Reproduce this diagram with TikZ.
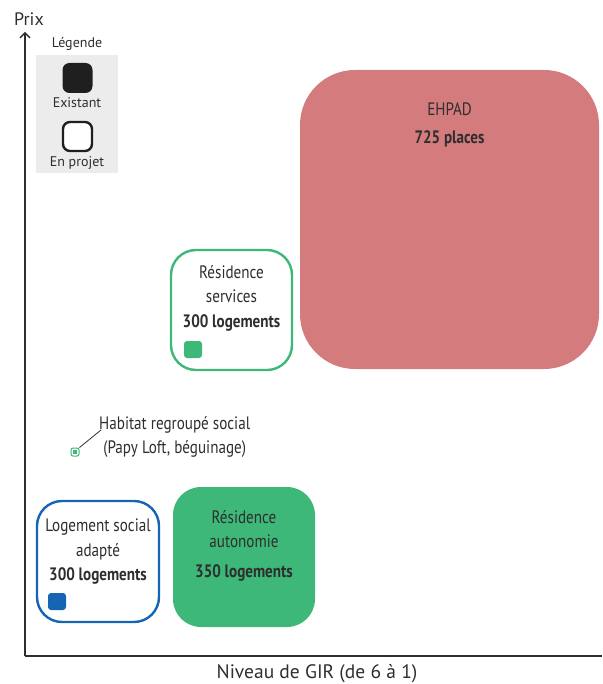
\documentclass[tikz,border=0pt]{standalone}
\usepackage{fontspec}
\setmainfont{PT Sans}
\newfontfamily\narrowfont[FakeStretch=0.84]{PT Sans}
\usetikzlibrary{positioning,arrows.meta}
\definecolor{ehpadred}{HTML}{D47B7E}
\definecolor{resgreen}{HTML}{3DB878}
\definecolor{lsblue}{HTML}{1565B4}
\definecolor{legendgray}{HTML}{ECECEC}
\definecolor{txtgray}{HTML}{2E2E2E}
\tikzstyle{fillbox}=[rectangle, inner sep=0pt, outer sep=0pt]
\tikzstyle{linebox}=[rectangle, inner sep=0pt, outer sep=0pt, fill=white, line width=2.4pt]
\tikzstyle{boxtext}=[align=center, text=txtgray, inner sep=0pt,
 font=\narrowfont\fontsize{18}{24.5}\selectfont]
\tikzstyle{legtext}=[text=txtgray, inner sep=0pt, font=\fontsize{14}{16}\selectfont]
\tikzstyle{axis}=[line width=1.3pt, draw=txtgray]

\begin{document}
\begin{tikzpicture}[x=1pt, y=-1pt]
\useasboundingbox (0,0) rectangle (602,684);

% axes
\coordinate (O) at (25,656);
\coordinate (YTOP) at (25,32);
\coordinate (XEND) at (602,656);
\draw[axis, -{Straight Barb[length=5pt,width=10pt]}] (O) -- (YTOP);
\draw[axis] (O) -- (XEND);
\node (PRIX) [text=txtgray, font=\fontsize{18}{20}\selectfont] at (29,19) {Prix};
\node (GIR) [text=txtgray, font=\fontsize{19.5}{21}\selectfont] at (317,674) {Niveau de GIR (de 6 à 1)};

% legend
\node (LEG) [fillbox, fill=legendgray, minimum width=82pt, minimum height=118pt] at (77,114) {};
\node (LEGT) [legtext] at (77,44) {Légende};
\node (EXI) [fillbox, fill=black!88, rounded corners=7pt, minimum size=30pt] at (77.5,78) {};
\node (EXIT) [legtext] at (77,103) {Existant};
\node (PRJ) [linebox, draw=black!88, rounded corners=7pt, minimum size=29pt] at (77.5,136.5) {};
\node (PRJT) [legtext] at (77,163) {En projet};

% EHPAD
\node (EHPAD) [fillbox, fill=ehpadred, rounded corners=55pt, minimum size=299pt] at (449.5,219.5) {};
\node (EHPADT) [boxtext, below=33pt of EHPAD.north] {EHPAD\\[3pt]{\bfseries 725 places}};

% residence services
\node (SERV) [linebox, draw=resgreen, rounded corners=25pt, minimum width=121pt, minimum height=120pt] at (231.5,310) {};
\node (SERVT) [boxtext, below=15pt of SERV.north] {Résidence\\services\\{\bfseries 300 logements}};
\node (SERVSQ) [fillbox, fill=resgreen, rounded corners=3pt, minimum width=18pt, minimum height=17pt] at (193,349.5) {};

% habitat regroupe
\node (HAB) [rectangle, draw=resgreen, fill=white, line width=1pt, rounded corners=2pt, minimum size=8pt, inner sep=0pt] at (75,452) {};
\node (HABSQ) [fillbox, fill=resgreen, minimum size=4pt] at (HAB.center) {};
\node (HABT) [boxtext, anchor=west] at (99,437) {Habitat regroupé social\\(Papy Loft, béguinage)};
\coordinate (HABEND) at (101,430);
\draw[line width=0.8pt, txtgray] (HAB.north east) -- (HABEND);

% logement social adapte
\node (LSA) [linebox, draw=lsblue, rounded corners=25pt, minimum width=122pt, minimum height=121pt] at (98,561.5) {};
\node (LSAT) [boxtext, below=18pt of LSA.north] {Logement social\\adapté\\{\bfseries 300 logements}};
\node (LSASQ) [fillbox, fill=lsblue, rounded corners=3pt, minimum width=18pt, minimum height=17pt] at (57,601.5) {};

% residence autonomie
\node (AUTO) [fillbox, fill=resgreen, rounded corners=28pt, minimum width=142pt, minimum height=140pt] at (244,557) {};
\node (AUTOT) [boxtext, below=23pt of AUTO.north] {Résidence\\autonomie\\[5pt]{\bfseries 350 logements}};

\end{tikzpicture}
\end{document}
